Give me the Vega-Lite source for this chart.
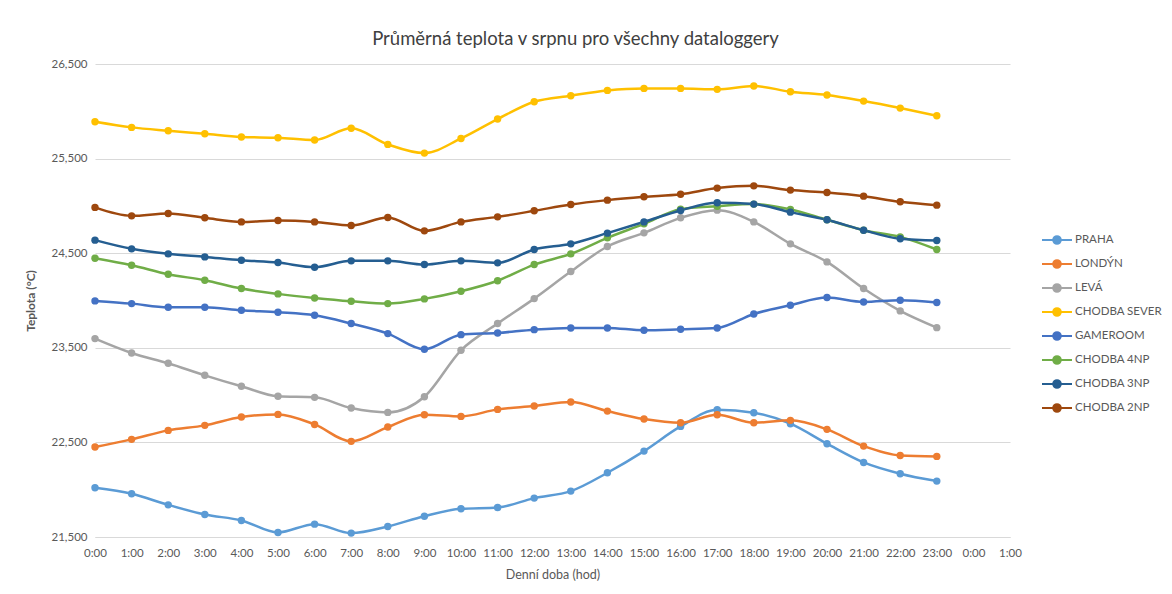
{
  "$schema": "https://vega.github.io/schema/vega-lite/v6.json",
  "width": 915,
  "height": 473,
  "autosize": {"type": "none"},
  "padding": {"left": 95, "top": 64, "right": 162, "bottom": 57},
  "background": "white",
  "title": {
    "text": "Průměrná teplota v srpnu pro všechny dataloggery",
    "anchor": "middle",
    "frame": "group",
    "dx": 23,
    "offset": 10,
    "font": "Lato",
    "fontSize": 18.5,
    "fontWeight": "normal",
    "color": "#404040"
  },
  "config": {
    "view": {"stroke": null},
    "font": "Lato"
  },
  "data": {
    "values": [
      {"h":0,"s":"PRAHA","v":22.020},{"h":1,"s":"PRAHA","v":21.957},{"h":2,"s":"PRAHA","v":21.840},{"h":3,"s":"PRAHA","v":21.738},{"h":4,"s":"PRAHA","v":21.675},{"h":5,"s":"PRAHA","v":21.548},{"h":6,"s":"PRAHA","v":21.636},{"h":7,"s":"PRAHA","v":21.541},{"h":8,"s":"PRAHA","v":21.611},{"h":9,"s":"PRAHA","v":21.720},{"h":10,"s":"PRAHA","v":21.798},{"h":11,"s":"PRAHA","v":21.812},{"h":12,"s":"PRAHA","v":21.911},{"h":13,"s":"PRAHA","v":21.985},{"h":14,"s":"PRAHA","v":22.179},{"h":15,"s":"PRAHA","v":22.408},{"h":16,"s":"PRAHA","v":22.669},{"h":17,"s":"PRAHA","v":22.846},{"h":18,"s":"PRAHA","v":22.814},{"h":19,"s":"PRAHA","v":22.698},{"h":20,"s":"PRAHA","v":22.486},{"h":21,"s":"PRAHA","v":22.288},{"h":22,"s":"PRAHA","v":22.169},{"h":23,"s":"PRAHA","v":22.091},
      {"h":0,"s":"LONDÝN","v":22.451},{"h":1,"s":"LONDÝN","v":22.532},{"h":2,"s":"LONDÝN","v":22.627},{"h":3,"s":"LONDÝN","v":22.680},{"h":4,"s":"LONDÝN","v":22.768},{"h":5,"s":"LONDÝN","v":22.796},{"h":6,"s":"LONDÝN","v":22.690},{"h":7,"s":"LONDÝN","v":22.511},{"h":8,"s":"LONDÝN","v":22.662},{"h":9,"s":"LONDÝN","v":22.793},{"h":10,"s":"LONDÝN","v":22.775},{"h":11,"s":"LONDÝN","v":22.849},{"h":12,"s":"LONDÝN","v":22.884},{"h":13,"s":"LONDÝN","v":22.927},{"h":14,"s":"LONDÝN","v":22.831},{"h":15,"s":"LONDÝN","v":22.747},{"h":16,"s":"LONDÝN","v":22.708},{"h":17,"s":"LONDÝN","v":22.793},{"h":18,"s":"LONDÝN","v":22.708},{"h":19,"s":"LONDÝN","v":22.733},{"h":20,"s":"LONDÝN","v":22.638},{"h":21,"s":"LONDÝN","v":22.461},{"h":22,"s":"LONDÝN","v":22.362},{"h":23,"s":"LONDÝN","v":22.352},
      {"h":0,"s":"LEVÁ","v":23.597},{"h":1,"s":"LEVÁ","v":23.445},{"h":2,"s":"LEVÁ","v":23.336},{"h":3,"s":"LEVÁ","v":23.209},{"h":4,"s":"LEVÁ","v":23.093},{"h":5,"s":"LEVÁ","v":22.987},{"h":6,"s":"LEVÁ","v":22.976},{"h":7,"s":"LEVÁ","v":22.863},{"h":8,"s":"LEVÁ","v":22.817},{"h":9,"s":"LEVÁ","v":22.983},{"h":10,"s":"LEVÁ","v":23.474},{"h":11,"s":"LEVÁ","v":23.756},{"h":12,"s":"LEVÁ","v":24.020},{"h":13,"s":"LEVÁ","v":24.306},{"h":14,"s":"LEVÁ","v":24.571},{"h":15,"s":"LEVÁ","v":24.715},{"h":16,"s":"LEVÁ","v":24.874},{"h":17,"s":"LEVÁ","v":24.955},{"h":18,"s":"LEVÁ","v":24.831},{"h":19,"s":"LEVÁ","v":24.599},{"h":20,"s":"LEVÁ","v":24.408},{"h":21,"s":"LEVÁ","v":24.126},{"h":22,"s":"LEVÁ","v":23.890},{"h":23,"s":"LEVÁ","v":23.713},
      {"h":0,"s":"CHODBA SEVER","v":25.889},{"h":1,"s":"CHODBA SEVER","v":25.830},{"h":2,"s":"CHODBA SEVER","v":25.794},{"h":3,"s":"CHODBA SEVER","v":25.762},{"h":4,"s":"CHODBA SEVER","v":25.728},{"h":5,"s":"CHODBA SEVER","v":25.720},{"h":6,"s":"CHODBA SEVER","v":25.696},{"h":7,"s":"CHODBA SEVER","v":25.820},{"h":8,"s":"CHODBA SEVER","v":25.650},{"h":9,"s":"CHODBA SEVER","v":25.558},{"h":10,"s":"CHODBA SEVER","v":25.713},{"h":11,"s":"CHODBA SEVER","v":25.918},{"h":12,"s":"CHODBA SEVER","v":26.101},{"h":13,"s":"CHODBA SEVER","v":26.165},{"h":14,"s":"CHODBA SEVER","v":26.221},{"h":15,"s":"CHODBA SEVER","v":26.242},{"h":16,"s":"CHODBA SEVER","v":26.242},{"h":17,"s":"CHODBA SEVER","v":26.232},{"h":18,"s":"CHODBA SEVER","v":26.267},{"h":19,"s":"CHODBA SEVER","v":26.207},{"h":20,"s":"CHODBA SEVER","v":26.172},{"h":21,"s":"CHODBA SEVER","v":26.108},{"h":22,"s":"CHODBA SEVER","v":26.034},{"h":23,"s":"CHODBA SEVER","v":25.953},
      {"h":0,"s":"GAMEROOM","v":23.996},{"h":1,"s":"GAMEROOM","v":23.967},{"h":2,"s":"GAMEROOM","v":23.929},{"h":3,"s":"GAMEROOM","v":23.929},{"h":4,"s":"GAMEROOM","v":23.897},{"h":5,"s":"GAMEROOM","v":23.876},{"h":6,"s":"GAMEROOM","v":23.844},{"h":7,"s":"GAMEROOM","v":23.756},{"h":8,"s":"GAMEROOM","v":23.650},{"h":9,"s":"GAMEROOM","v":23.484},{"h":10,"s":"GAMEROOM","v":23.639},{"h":11,"s":"GAMEROOM","v":23.657},{"h":12,"s":"GAMEROOM","v":23.692},{"h":13,"s":"GAMEROOM","v":23.710},{"h":14,"s":"GAMEROOM","v":23.710},{"h":15,"s":"GAMEROOM","v":23.685},{"h":16,"s":"GAMEROOM","v":23.696},{"h":17,"s":"GAMEROOM","v":23.710},{"h":18,"s":"GAMEROOM","v":23.858},{"h":19,"s":"GAMEROOM","v":23.950},{"h":20,"s":"GAMEROOM","v":24.031},{"h":21,"s":"GAMEROOM","v":23.985},{"h":22,"s":"GAMEROOM","v":24.003},{"h":23,"s":"GAMEROOM","v":23.978},
      {"h":0,"s":"CHODBA 4NP","v":24.447},{"h":1,"s":"CHODBA 4NP","v":24.373},{"h":2,"s":"CHODBA 4NP","v":24.278},{"h":3,"s":"CHODBA 4NP","v":24.214},{"h":4,"s":"CHODBA 4NP","v":24.126},{"h":5,"s":"CHODBA 4NP","v":24.070},{"h":6,"s":"CHODBA 4NP","v":24.027},{"h":7,"s":"CHODBA 4NP","v":23.992},{"h":8,"s":"CHODBA 4NP","v":23.967},{"h":9,"s":"CHODBA 4NP","v":24.017},{"h":10,"s":"CHODBA 4NP","v":24.098},{"h":11,"s":"CHODBA 4NP","v":24.209},{"h":12,"s":"CHODBA 4NP","v":24.380},{"h":13,"s":"CHODBA 4NP","v":24.493},{"h":14,"s":"CHODBA 4NP","v":24.662},{"h":15,"s":"CHODBA 4NP","v":24.810},{"h":16,"s":"CHODBA 4NP","v":24.966},{"h":17,"s":"CHODBA 4NP","v":24.997},{"h":18,"s":"CHODBA 4NP","v":25.019},{"h":19,"s":"CHODBA 4NP","v":24.962},{"h":20,"s":"CHODBA 4NP","v":24.853},{"h":21,"s":"CHODBA 4NP","v":24.743},{"h":22,"s":"CHODBA 4NP","v":24.673},{"h":23,"s":"CHODBA 4NP","v":24.539},
      {"h":0,"s":"CHODBA 3NP","v":24.638},{"h":1,"s":"CHODBA 3NP","v":24.546},{"h":2,"s":"CHODBA 3NP","v":24.493},{"h":3,"s":"CHODBA 3NP","v":24.461},{"h":4,"s":"CHODBA 3NP","v":24.426},{"h":5,"s":"CHODBA 3NP","v":24.401},{"h":6,"s":"CHODBA 3NP","v":24.352},{"h":7,"s":"CHODBA 3NP","v":24.419},{"h":8,"s":"CHODBA 3NP","v":24.419},{"h":9,"s":"CHODBA 3NP","v":24.380},{"h":10,"s":"CHODBA 3NP","v":24.419},{"h":11,"s":"CHODBA 3NP","v":24.398},{"h":12,"s":"CHODBA 3NP","v":24.539},{"h":13,"s":"CHODBA 3NP","v":24.599},{"h":14,"s":"CHODBA 3NP","v":24.712},{"h":15,"s":"CHODBA 3NP","v":24.831},{"h":16,"s":"CHODBA 3NP","v":24.952},{"h":17,"s":"CHODBA 3NP","v":25.033},{"h":18,"s":"CHODBA 3NP","v":25.019},{"h":19,"s":"CHODBA 3NP","v":24.934},{"h":20,"s":"CHODBA 3NP","v":24.853},{"h":21,"s":"CHODBA 3NP","v":24.743},{"h":22,"s":"CHODBA 3NP","v":24.652},{"h":23,"s":"CHODBA 3NP","v":24.634},
      {"h":0,"s":"CHODBA 2NP","v":24.984},{"h":1,"s":"CHODBA 2NP","v":24.895},{"h":2,"s":"CHODBA 2NP","v":24.920},{"h":3,"s":"CHODBA 2NP","v":24.874},{"h":4,"s":"CHODBA 2NP","v":24.831},{"h":5,"s":"CHODBA 2NP","v":24.846},{"h":6,"s":"CHODBA 2NP","v":24.831},{"h":7,"s":"CHODBA 2NP","v":24.793},{"h":8,"s":"CHODBA 2NP","v":24.878},{"h":9,"s":"CHODBA 2NP","v":24.736},{"h":10,"s":"CHODBA 2NP","v":24.831},{"h":11,"s":"CHODBA 2NP","v":24.884},{"h":12,"s":"CHODBA 2NP","v":24.948},{"h":13,"s":"CHODBA 2NP","v":25.015},{"h":14,"s":"CHODBA 2NP","v":25.061},{"h":15,"s":"CHODBA 2NP","v":25.096},{"h":16,"s":"CHODBA 2NP","v":25.124},{"h":17,"s":"CHODBA 2NP","v":25.188},{"h":18,"s":"CHODBA 2NP","v":25.212},{"h":19,"s":"CHODBA 2NP","v":25.167},{"h":20,"s":"CHODBA 2NP","v":25.142},{"h":21,"s":"CHODBA 2NP","v":25.103},{"h":22,"s":"CHODBA 2NP","v":25.043},{"h":23,"s":"CHODBA 2NP","v":25.008}
    ]
  },
  "encoding": {
    "x": {
      "field": "h",
      "type": "quantitative",
      "scale": {"domain": [0, 25], "nice": false, "zero": false},
      "axis": {
        "title": "Denní doba (hod)",
        "values": [0,1,2,3,4,5,6,7,8,9,10,11,12,13,14,15,16,17,18,19,20,21,22,23,24,25],
        "labelExpr": "(datum.value % 24) + ':00'",
        "grid": false,
        "ticks": false,
        "domainColor": "#D9D9D9",
        "domainWidth": 1,
        "labelColor": "#595959",
        "labelFontSize": 11.5,
        "labelPadding": 10,
        "labelFlush": false,
        "labelOverlap": false,
        "titleColor": "#595959",
        "titleFontSize": 12.5,
        "titleFontWeight": "normal",
        "titlePadding": 10
      }
    },
    "y": {
      "field": "v",
      "type": "quantitative",
      "scale": {"domain": [21.5, 26.5], "nice": false, "zero": false},
      "axis": {
        "title": "Teplota (°C)",
        "values": [21.5, 22.5, 23.5, 24.5, 25.5, 26.5],
        "labelExpr": "replace(format(datum.value, '.3f'), '.', ',')",
        "domain": false,
        "ticks": false,
        "gridColor": "#D9D9D9",
        "labelColor": "#595959",
        "labelFontSize": 11.5,
        "labelPadding": 8,
        "titleColor": "#595959",
        "titleFontSize": 12,
        "titleFontWeight": "bold",
        "titlePadding": 14
      }
    },
    "color": {
      "field": "s",
      "type": "nominal",
      "scale": {
        "domain": ["PRAHA", "LONDÝN", "LEVÁ", "CHODBA SEVER", "GAMEROOM", "CHODBA 4NP", "CHODBA 3NP", "CHODBA 2NP"],
        "range": ["#5B9BD5", "#ED7D31", "#A5A5A5", "#FFC000", "#4472C4", "#70AD47", "#255E91", "#9E480E"]
      },
      "legend": {
        "title": null,
        "orient": "none",
        "legendX": 951,
        "legendY": 165,
        "symbolType": "M-1.5,0H-0.38M0.38,0H1.5M-0.38,0A0.38,0.38 0 1,1 0.38,0A0.38,0.38 0 1,1 -0.38,0",
        "symbolSize": 400,
        "symbolStrokeWidth": 2,
        "labelOffset": 7,
        "labelFontSize": 11.5,
        "labelColor": "#595959",
        "rowPadding": 5,
        "encode": {
          "symbols": {
            "update": {
              "stroke": {"scale": "color", "field": "value"},
              "fill": {"scale": "color", "field": "value"},
              "strokeWidth": {"value": 2},
              "opacity": {"value": 1}
            }
          }
        }
      }
    }
  },
  "layer": [
    {"mark": {"type": "line", "interpolate": "monotone", "strokeWidth": 2.5}},
    {"mark": {"type": "point", "filled": true, "size": 55, "opacity": 1}}
  ]
}
